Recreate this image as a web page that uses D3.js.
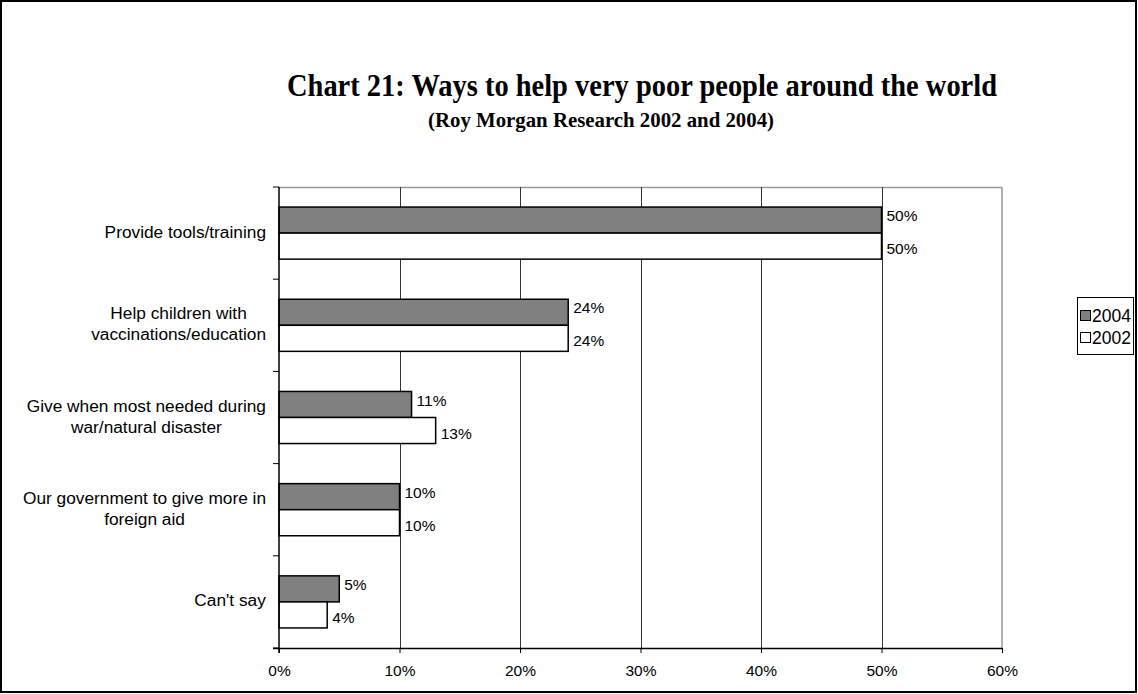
<!DOCTYPE html>
<html>
<head>
<meta charset="utf-8">
<script src="https://cdn.jsdelivr.net/npm/d3@7"></script>
<style>
  html, body { margin: 0; padding: 0; background: #fff; }
  svg { display: block; }
</style>
</head>
<body>
<svg id="chart" width="1138" height="694"></svg>
<script>
// Survey answers, top to bottom
const categories = [
  ["Provide tools/training"],
  ["Help children with", "vaccinations/education"],
  ["Give when most needed during", "war/natural disaster"],
  ["Our government to give more in", "foreign aid"],
  ["Can't say"]
];
const series = ["2004", "2002"];
const values2004 = [50, 24, 11, 10, 5];
const values2002 = [50, 24, 13, 10, 4];
const xTicks = [0, 10, 20, 30, 40, 50, 60];
const fills = { "2004": "#808080", "2002": "#ffffff" };

const svg = d3.select("#chart");
const W = 1138, H = 694;

// outer frame
svg.append("rect").attr("x", 1).attr("y", 1).attr("width", W - 3).attr("height", H - 3)
  .attr("fill", "#fff").attr("stroke", "#000").attr("stroke-width", 2);

// titles
const serif = "'Liberation Serif', 'Times New Roman', serif";
svg.append("text").attr("x", 642).attr("y", 96).attr("text-anchor", "middle")
  .attr("font-family", serif).attr("font-weight", "bold").attr("font-size", 31)
  .attr("textLength", 710).attr("lengthAdjust", "spacingAndGlyphs")
  .text("Chart 21: Ways to help very poor people around the world");
svg.append("text").attr("x", 601).attr("y", 127).attr("text-anchor", "middle")
  .attr("font-family", serif).attr("font-weight", "bold").attr("font-size", 22)
  .attr("textLength", 346).attr("lengthAdjust", "spacingAndGlyphs")
  .text("(Roy Morgan Research 2002 and 2004)");

const plot = { left: 279, right: 1002, top: 187, bottom: 648 };

const x = d3.scaleLinear().domain([0, 60]).range([plot.left, plot.right]);
const y = d3.scaleBand().domain(d3.range(categories.length))
  .range([plot.top, plot.bottom]).paddingInner(0.435).paddingOuter(0.2175);
const ySub = d3.scaleBand().domain(series).range([0, y.bandwidth()]);

const font = "'Liberation Sans', Arial, sans-serif";

// plot frame (top & right in grey)
svg.append("line").attr("x1", plot.left).attr("x2", plot.right)
  .attr("y1", plot.top + 0.5).attr("y2", plot.top + 0.5)
  .attr("stroke", "#999").attr("stroke-width", 1.5);
svg.append("line").attr("x1", plot.right).attr("x2", plot.right)
  .attr("y1", plot.top).attr("y2", plot.bottom)
  .attr("stroke", "#999").attr("stroke-width", 1.5);

// vertical gridlines
svg.append("g").selectAll("line").data(xTicks.slice(1, -1)).join("line")
  .attr("x1", d => Math.round(x(d)) + 0.5).attr("x2", d => Math.round(x(d)) + 0.5)
  .attr("y1", plot.top).attr("y2", plot.bottom)
  .attr("stroke", "#333").attr("stroke-width", 1);

// bars
const data = [];
categories.forEach((c, i) => {
  data.push({ i, s: "2004", v: values2004[i] });
  data.push({ i, s: "2002", v: values2002[i] });
});

const bars = svg.append("g");
bars.selectAll("rect").data(data).join("rect")
  .attr("x", x(0))
  .attr("y", d => y(d.i) + ySub(d.s))
  .attr("width", d => x(d.v) - x(0))
  .attr("height", ySub.bandwidth())
  .attr("fill", d => fills[d.s])
  .attr("stroke", "#000").attr("stroke-width", 1.5);

// value labels
bars.selectAll("text").data(data).join("text")
  .attr("x", d => x(d.v) + 5)
  .attr("y", d => y(d.i) + ySub(d.s) + ySub.bandwidth() / 2 + (d.s === "2004" ? -3 : 4))
  .attr("dominant-baseline", "middle")
  .attr("font-family", font).attr("font-size", 15.5).attr("fill", "#000")
  .text(d => d.v + "%");

// x axis
const xAxis = svg.append("g").attr("transform", `translate(0,${plot.bottom})`)
  .call(d3.axisBottom(x).tickValues(xTicks).tickFormat(d => d + "%").tickSize(5).tickPadding(12));
xAxis.select(".domain").attr("stroke", "#000").attr("stroke-width", 1.5)
  .attr("d", `M${plot.left - 6},0.5H${plot.right}`);
xAxis.selectAll(".tick line").attr("stroke", "#000");
xAxis.selectAll(".tick text").attr("font-family", font).attr("font-size", 15.5).attr("fill", "#000");

// y axis with ticks at category boundaries
const yEdges = d3.range(categories.length + 1).map(i => plot.top + i * (plot.bottom - plot.top) / categories.length);
svg.append("line").attr("x1", plot.left).attr("x2", plot.left)
  .attr("y1", plot.top).attr("y2", plot.bottom + 5)
  .attr("stroke", "#000").attr("stroke-width", 1.5);
svg.append("g").selectAll("line").data(yEdges).join("line")
  .attr("x1", plot.left - 6).attr("x2", plot.left)
  .attr("y1", d => d).attr("y2", d => d)
  .attr("stroke", "#000").attr("stroke-width", 1);

// category labels
const catG = svg.append("g");
categories.forEach((lines, i) => {
  const cy = y(i) + y.bandwidth() / 2;
  const lh = 21;
  const t = catG.append("text").attr("text-anchor", "middle")
    .attr("font-family", font).attr("font-size", 17.3).attr("fill", "#000");
  lines.forEach((ln, k) => {
    t.append("tspan").attr("x", 0).attr("y", cy + (k - (lines.length - 1) / 2) * lh)
      .attr("dominant-baseline", "middle").text(ln);
  });
  // right-align the block of centered lines
  const bb = t.node().getBBox();
  t.attr("transform", `translate(${266 - bb.width / 2},0)`);
});

// legend
const lg = svg.append("g");
lg.append("rect").attr("x", 1077.5).attr("y", 297.5).attr("width", 56).attr("height", 57)
  .attr("fill", "#fff").attr("stroke", "#000").attr("stroke-width", 1);
series.forEach((s, k) => {
  const cy = 316 + k * 22;
  lg.append("rect").attr("x", 1080.5).attr("y", cy - 5.5).attr("width", 10).attr("height", 10)
    .attr("fill", fills[s]).attr("stroke", "#000").attr("stroke-width", 1);
  lg.append("text").attr("x", 1092).attr("y", cy + 1).attr("dominant-baseline", "middle")
    .attr("font-family", font).attr("font-size", 17.5).attr("fill", "#000").text(s);
});
</script>
</body>
</html>
